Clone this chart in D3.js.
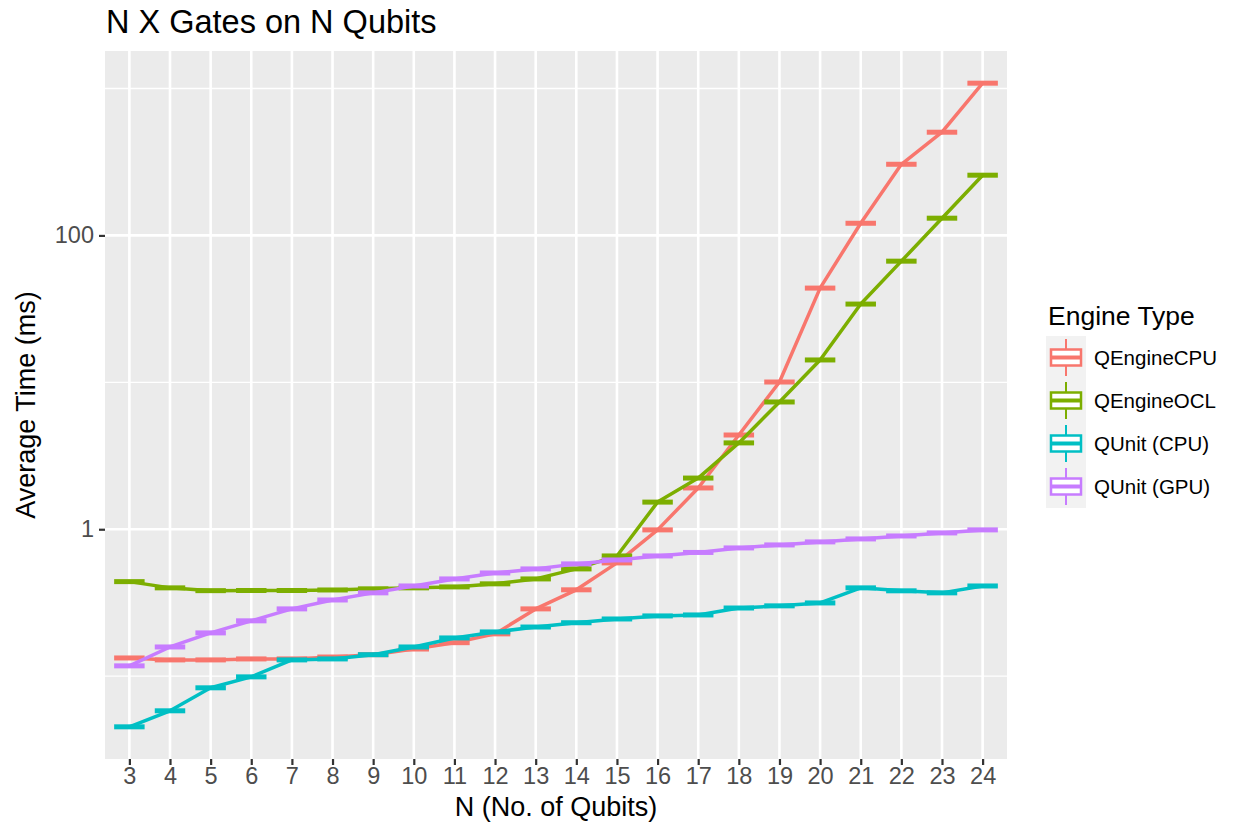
<!DOCTYPE html>
<html>
<head>
<meta charset="utf-8">
<script src="https://cdn.jsdelivr.net/npm/d3@7"></script>
<style>
  html, body { margin: 0; padding: 0; background: #ffffff; }
  svg { display: block; font-family: "Liberation Sans", Arial, sans-serif; }
</style>
</head>
<body>
<svg id="chart" width="1233" height="824"></svg>
<script>
// Number of qubits on the x axis
const qubits = [3, 4, 5, 6, 7, 8, 9, 10, 11, 12, 13, 14, 15, 16, 17, 18, 19, 20, 21, 22, 23, 24];

// Average time (ms) per engine
const qengineCPU = [0.133, 0.129, 0.129, 0.131, 0.131, 0.135, 0.140, 0.153, 0.169, 0.194, 0.287, 0.387,
                    0.590, 0.99, 1.91, 4.38, 10.05, 43.8, 121, 305, 504, 1087];
const qengineOCL = [0.440, 0.399, 0.382, 0.383, 0.383, 0.386, 0.393, 0.399, 0.405, 0.425, 0.459, 0.537,
                    0.658, 1.53, 2.23, 3.87, 7.35, 14.2, 34.1, 66.8, 131, 257];
const qunitCPU   = [0.0452, 0.0581, 0.0833, 0.0989, 0.129, 0.131, 0.140, 0.158, 0.182, 0.200, 0.216, 0.231,
                    0.245, 0.257, 0.261, 0.291, 0.301, 0.315, 0.399, 0.381, 0.369, 0.411];
const qunitGPU   = [0.1175, 0.158, 0.197, 0.238, 0.287, 0.330, 0.369, 0.411, 0.459, 0.504, 0.537, 0.581,
                    0.618, 0.658, 0.695, 0.746, 0.782, 0.820, 0.859, 0.900, 0.944, 0.990];

const engineNames  = ["QEngineCPU", "QEngineOCL", "QUnit (CPU)", "QUnit (GPU)"];
const engineColors = ["#F8766D", "#7CAE00", "#00BFC4", "#C77CFF"];

const yMajorTicks = [1, 100];
const yMinorTicks = [0.1, 10, 1000];

const series = [qengineCPU, qengineOCL, qunitCPU, qunitGPU].map((vals, i) => ({
  name: engineNames[i],
  color: engineColors[i],
  values: vals.map((v, j) => ({ n: qubits[j], v }))
}));

// Layout
const svg = d3.select("#chart");
const panel = { left: 105, right: 1007, top: 51, bottom: 759 };

// Scales: discrete x with 0.6 step padding, log10 y with 5% expansion
const x = d3.scalePoint()
  .domain(qubits)
  .range([panel.left, panel.right])
  .padding(0.6);
const step = x.step();

const allVals = series.flatMap(s => s.values.map(d => d.v));
const lmin = Math.log10(d3.min(allVals));
const lmax = Math.log10(d3.max(allVals));
const pad = (lmax - lmin) * 0.05;
const y = d3.scaleLog()
  .domain([Math.pow(10, lmin - pad), Math.pow(10, lmax + pad)])
  .range([panel.bottom, panel.top]);

// Panel background
svg.append("rect")
  .attr("x", panel.left).attr("y", panel.top)
  .attr("width", panel.right - panel.left).attr("height", panel.bottom - panel.top)
  .attr("fill", "#EBEBEB");

// Grid lines
const grid = svg.append("g");
grid.selectAll("line.minor").data(yMinorTicks).join("line")
  .attr("class", "minor")
  .attr("x1", panel.left).attr("x2", panel.right)
  .attr("y1", d => y(d)).attr("y2", d => y(d))
  .attr("stroke", "#ffffff").attr("stroke-width", 1.3);
grid.selectAll("line.major").data(yMajorTicks).join("line")
  .attr("class", "major")
  .attr("x1", panel.left).attr("x2", panel.right)
  .attr("y1", d => y(d)).attr("y2", d => y(d))
  .attr("stroke", "#ffffff").attr("stroke-width", 2.6);
grid.selectAll("line.vmajor").data(qubits).join("line")
  .attr("class", "vmajor")
  .attr("x1", d => x(d)).attr("x2", d => x(d))
  .attr("y1", panel.top).attr("y2", panel.bottom)
  .attr("stroke", "#ffffff").attr("stroke-width", 2.6);

// Connecting lines through medians, with flattened boxplots at each qubit count
const line = d3.line().x(d => x(d.n)).y(d => y(d.v));
const boxHalf = step * 0.75 / 2;

series.forEach(s => {
  const g = svg.append("g");
  g.append("path")
    .datum(s.values)
    .attr("d", line)
    .attr("fill", "none")
    .attr("stroke", s.color)
    .attr("stroke-width", 3.5)
    .attr("stroke-linejoin", "round");
  g.selectAll("line.box").data(s.values).join("line")
    .attr("class", "box")
    .attr("x1", d => x(d.n) - boxHalf).attr("x2", d => x(d.n) + boxHalf)
    .attr("y1", d => y(d.v)).attr("y2", d => y(d.v))
    .attr("stroke", s.color)
    .attr("stroke-width", 5);
});

// Axes
const xAxis = d3.axisBottom(x).tickSize(6).tickPadding(4);
const gx = svg.append("g")
  .attr("transform", `translate(0,${panel.bottom})`)
  .call(xAxis);
const yAxis = d3.axisLeft(y).tickValues(yMajorTicks).tickFormat(d3.format("d")).tickSize(6).tickPadding(5);
const gy = svg.append("g")
  .attr("transform", `translate(${panel.left},0)`)
  .call(yAxis);

[gx, gy].forEach(g => {
  g.select(".domain").remove();
  g.selectAll(".tick line").attr("stroke", "#333333").attr("stroke-width", 2.2);
  g.selectAll(".tick text")
    .attr("fill", "#4D4D4D")
    .style("font-size", "23.5px")
    .style("font-family", "Liberation Sans, Arial, sans-serif");
});
gx.selectAll(".tick text").attr("dy", null).attr("y", 25);

// Titles
svg.append("text")
  .attr("x", 106).attr("y", 33)
  .attr("fill", "#000000")
  .style("font-size", "32.5px")
  .text("N X Gates on N Qubits");

svg.append("text")
  .attr("x", (panel.left + panel.right) / 2).attr("y", 816)
  .attr("text-anchor", "middle")
  .attr("fill", "#000000")
  .style("font-size", "27px")
  .text("N (No. of Qubits)");

svg.append("text")
  .attr("transform", `translate(35,${(panel.top + panel.bottom) / 2}) rotate(-90)`)
  .attr("text-anchor", "middle")
  .attr("fill", "#000000")
  .style("font-size", "27px")
  .text("Average Time (ms)");

// Legend
const legend = svg.append("g").attr("transform", "translate(1046,0)");
legend.append("text")
  .attr("x", 2).attr("y", 325)
  .attr("fill", "#000000")
  .style("font-size", "26.5px")
  .text("Engine Type");

const keyH = 43, keyW = 40, keyTop = 336;
series.forEach((s, i) => {
  const k = legend.append("g").attr("transform", `translate(0,${keyTop + i * keyH})`);
  k.append("rect").attr("x", 0).attr("y", 0).attr("width", keyW).attr("height", keyH)
    .attr("fill", "#F2F2F2");
  const cx = keyW / 2, cy = keyH / 2;
  // whiskers
  k.append("line").attr("x1", cx).attr("x2", cx).attr("y1", 3).attr("y2", cy - 8)
    .attr("stroke", s.color).attr("stroke-width", 2);
  k.append("line").attr("x1", cx).attr("x2", cx).attr("y1", cy + 8).attr("y2", keyH - 3)
    .attr("stroke", s.color).attr("stroke-width", 2);
  // box
  k.append("rect").attr("x", 5).attr("y", cy - 8).attr("width", keyW - 10).attr("height", 16)
    .attr("fill", "#ffffff").attr("stroke", s.color).attr("stroke-width", 2.5);
  // median
  k.append("line").attr("x1", 5).attr("x2", keyW - 5).attr("y1", cy).attr("y2", cy)
    .attr("stroke", s.color).attr("stroke-width", 4);
  k.append("text")
    .attr("x", keyW + 8).attr("y", cy + 7)
    .attr("fill", "#000000")
    .style("font-size", "20.5px")
    .text(s.name);
});
</script>
</body>
</html>
